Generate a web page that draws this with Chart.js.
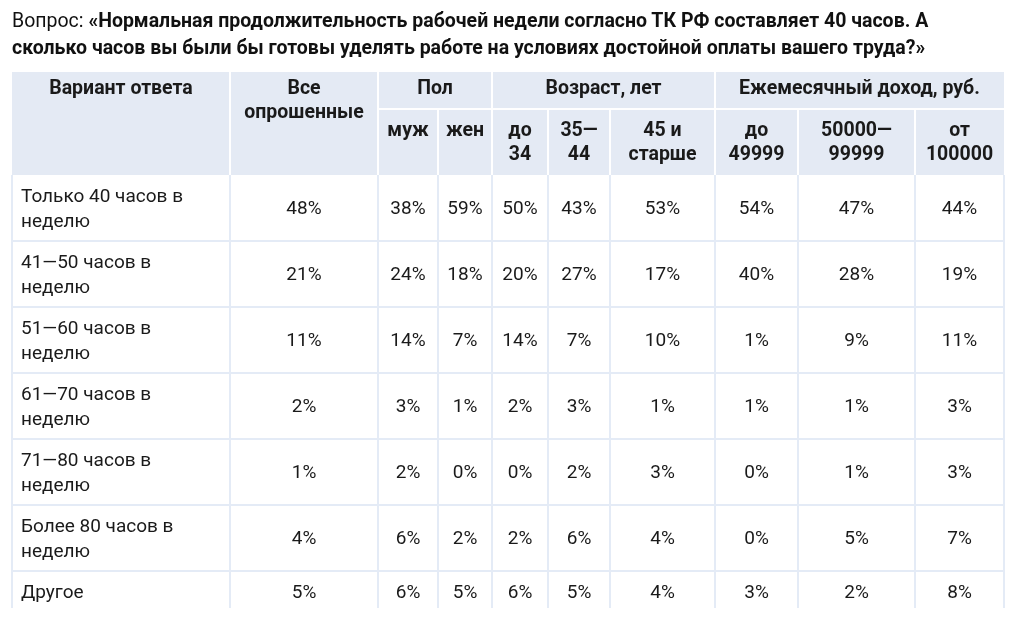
<!DOCTYPE html>
<html><head><meta charset="utf-8">
<script src="https://cdn.jsdelivr.net/npm/chart.js@4/dist/chart.umd.min.js"></script>
<style>
html,body{margin:0;padding:0;background:#fff;}
#title{position:absolute;left:12px;top:7px;font:19.5px/27px Roboto,sans-serif;color:#111;white-space:nowrap;}
#title b{font-weight:700;}
#wrap{position:absolute;left:0;top:0;width:1024px;height:608px;overflow:hidden;}
canvas{display:block}
</style></head><body>
<div id="wrap"><canvas id="c" width="1024" height="641" style="width:1024px;height:641px"></canvas></div>
<div id="title">Вопрос: <b>«Нормальная продолжительность рабочей недели согласно ТК РФ составляет 40 часов. А<br>сколько часов вы были бы готовы уделять работе на условиях достойной оплаты вашего труда?»</b></div>
<script>
// ---- data ----
const categories = [
  ["Только 40 часов в", "неделю"],
  ["41—50 часов в", "неделю"],
  ["51—60 часов в", "неделю"],
  ["61—70 часов в", "неделю"],
  ["71—80 часов в", "неделю"],
  ["Более 80 часов в", "неделю"],
  ["Другое"]
];
const allRespondents = [48, 21, 11, 2, 1, 4, 5];
const male           = [38, 24, 14, 3, 2, 6, 6];
const female         = [59, 18, 7, 1, 0, 2, 5];
const ageTo34        = [50, 20, 14, 2, 0, 2, 6];
const age35to44      = [43, 27, 7, 3, 2, 6, 5];
const age45plus      = [53, 17, 10, 1, 3, 4, 4];
const incomeTo49999  = [54, 40, 1, 1, 0, 0, 3];
const income50to99   = [47, 28, 9, 1, 1, 5, 2];
const incomeFrom100  = [44, 19, 11, 3, 3, 7, 8];

const firstHeader = ["Вариант ответа"];
const allHeader = ["Все", "опрошенные"];
const groupHeaders = ["Пол", "Возраст, лет", "Ежемесячный доход, руб."];
const subHeaders = [["муж"], ["жен"], ["до", "34"], ["35—", "44"], ["45 и", "старше"], ["до", "49999"], ["50000—", "99999"], ["от", "100000"]];

const series = [allRespondents, male, female, ageTo34, age35to44, age45plus, incomeTo49999, income50to99, incomeFrom100];

// ---- layout (not data) ----
const colWidths = [218, 148, 60, 54, 56, 62, 105, 83, 117, 89];
const rowHeights = [66, 66, 66, 66, 66, 66, 41];
const HEAD1 = 37, HEAD2 = 66;
const groupSpans = [[2, 4], [4, 7], [7, 10]];
const colEdges = [0]; colWidths.forEach(w => colEdges.push(colEdges[colEdges.length - 1] + w));
const rowEdges = [0]; rowHeights.forEach(h => rowEdges.push(rowEdges[rowEdges.length - 1] + h));
const colCenter = i => (colEdges[i] + colEdges[i + 1]) / 2;
const rowCenter = i => (rowEdges[i] + rowEdges[i + 1]) / 2;

const HEADER_BG = '#e4eaf4';
const GRID = '#e4ebf6';
const TEXT = '#1a1a1a';
const FONT = 'Roboto, sans-serif';
const HEAD_FONT = 'bold 19.5px ' + FONT;
const BODY_FONT = '19px ' + FONT;

const datasets = series.map((vals, c) => ({
  data: vals.map((v, r) => ({ x: colCenter(c + 1), y: rowCenter(r), v })),
  pointRadius: 0, pointHoverRadius: 0
}));

const tablePlugin = {
  id: 'table',
  beforeDatasetsDraw(chart) {
    const { ctx, chartArea: a, scales: { x, y } } = chart;
    const X = i => x.getPixelForValue(colEdges[i]);
    const Y = i => y.getPixelForValue(rowEdges[i]);
    const hTop = a.top - HEAD1 - HEAD2, hMid = a.top - HEAD2;
    ctx.save();
    ctx.fillStyle = HEADER_BG;
    ctx.fillRect(X(0), hTop, X(10) - X(0), a.top - hTop);
    ctx.strokeStyle = '#ffffff'; ctx.lineWidth = 2;
    ctx.beginPath();
    [1, 2, 4, 7].forEach(i => { ctx.moveTo(X(i), hTop); ctx.lineTo(X(i), a.top); });
    ctx.moveTo(X(2), hMid); ctx.lineTo(X(10), hMid);
    [3, 5, 6, 8, 9].forEach(i => { ctx.moveTo(X(i), hMid); ctx.lineTo(X(i), a.top); });
    ctx.stroke();
    ctx.strokeStyle = GRID; ctx.lineWidth = 2;
    ctx.beginPath();
    for (let r = 1; r < rowEdges.length - 1; r++) { ctx.moveTo(X(0), Y(r)); ctx.lineTo(X(10), Y(r)); }
    colEdges.forEach((_, i) => { ctx.moveTo(X(i), a.top); ctx.lineTo(X(i), a.bottom); });
    ctx.stroke();
    ctx.fillStyle = TEXT;
    ctx.font = HEAD_FONT;
    ctx.textAlign = 'center'; ctx.textBaseline = 'middle';
    const drawLines = (lines, cx, cy0) => lines.forEach((t, k) => ctx.fillText(t, cx, cy0 + k * 24));
    drawLines(firstHeader, (X(0) + X(1)) / 2, hTop + 17);
    drawLines(allHeader, (X(1) + X(2)) / 2, hTop + 17);
    groupHeaders.forEach((g, k) => drawLines([g], (X(groupSpans[k][0]) + X(groupSpans[k][1])) / 2, hTop + 17));
    subHeaders.forEach((s, k) => drawLines(s, (X(k + 2) + X(k + 3)) / 2, hMid + 22));
    ctx.font = BODY_FONT;
    ctx.textAlign = 'left';
    categories.forEach((lines, r) => {
      const cy = (Y(r) + Y(r + 1)) / 2 + 1.5 - (lines.length - 1) * 12.5;
      lines.forEach((t, k) => ctx.fillText(t, X(0) + 9, cy + k * 25));
    });
    ctx.restore();
  },
  afterDatasetsDraw(chart) {
    const { ctx } = chart;
    ctx.save();
    ctx.fillStyle = TEXT;
    ctx.font = BODY_FONT;
    ctx.textAlign = 'center'; ctx.textBaseline = 'middle';
    chart.data.datasets.forEach((ds, d) => {
      chart.getDatasetMeta(d).data.forEach((el, i) => {
        ctx.fillText(ds.data[i].v + '%', el.x, el.y + 1.5);
      });
    });
    ctx.restore();
  }
};

new Chart(document.getElementById('c'), {
  type: 'scatter',
  data: { datasets },
  options: {
    responsive: false, animation: false, devicePixelRatio: 1,
    layout: { padding: { left: 12, right: 20, top: 175, bottom: 29 } },
    scales: {
      x: { type: 'linear', min: 0, max: colEdges[colEdges.length - 1], display: false },
      y: { type: 'linear', min: 0, max: rowEdges[rowEdges.length - 1], reverse: true, display: false }
    },
    plugins: { legend: { display: false }, tooltip: { enabled: false }, title: { display: false } },
    events: []
  },
  plugins: [tablePlugin]
});
</script>
</body></html>
